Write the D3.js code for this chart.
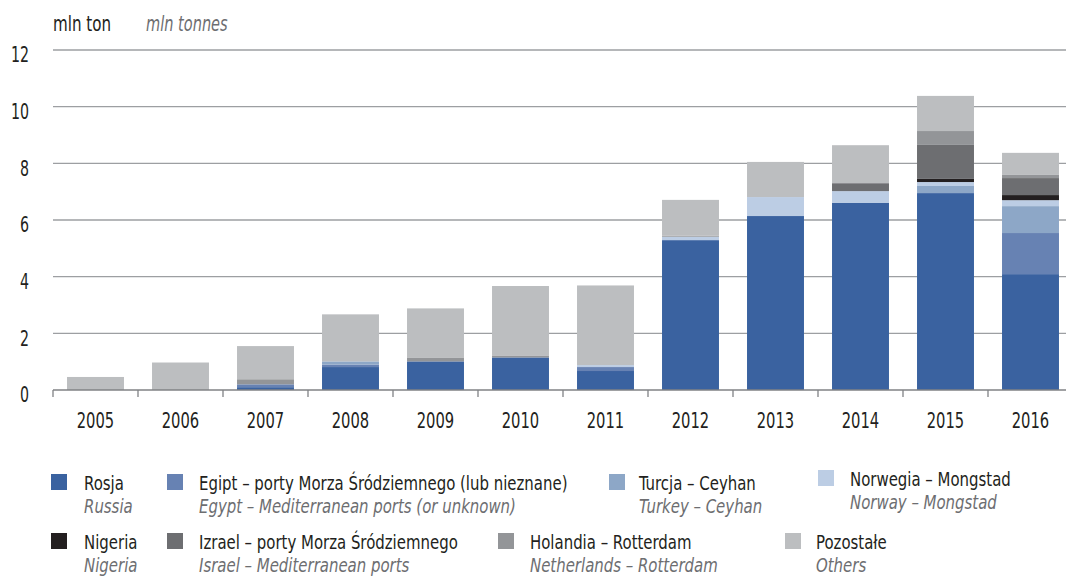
<!DOCTYPE html>
<html>
<head>
<meta charset="utf-8">
<script src="https://cdn.jsdelivr.net/npm/d3@7"></script>
<style>
  body { margin: 0; background: #fff; }
  svg text { font-family: "DejaVu Sans Condensed", "Liberation Sans Narrow", "Roboto", sans-serif; }
</style>
</head>
<body>
<div id="chart"></div>
<script>
// data (mln ton)
var years = ["2005", "2006", "2007", "2008", "2009", "2010", "2011", "2012", "2013", "2014", "2015", "2016"];
var rosja     = [0,    0,    0.10, 0.81, 1.01, 1.15, 0.67, 5.29, 6.14, 6.60, 6.95, 4.09];
var egipt     = [0,    0,    0.10, 0.09, 0,    0,    0.14, 0,    0,    0,    0,    1.45];
var turcja    = [0,    0,    0,    0.11, 0,    0,    0,    0,    0,    0,    0.25, 0.95];
var norwegia  = [0,    0,    0,    0,    0,    0,    0.07, 0.12, 0.67, 0.42, 0.14, 0.21];
var nigeria   = [0,    0,    0,    0,    0,    0,    0,    0,    0,    0,    0.11, 0.18];
var izrael    = [0,    0,    0,    0,    0,    0,    0,    0,    0,    0.28, 1.20, 0.60];
var holandia  = [0,    0,    0.18, 0,    0.14, 0.07, 0,    0.04, 0,    0,    0.49, 0.11];
var pozostale = [0.46, 0.97, 1.17, 1.66, 1.73, 2.45, 2.81, 1.26, 1.24, 1.34, 1.24, 0.78];

var yTicks = [0, 2, 4, 6, 8, 10, 12];
var keys = ["rosja", "egipt", "turcja", "norwegia", "nigeria", "izrael", "holandia", "pozostale"];
var labelsPl = ["Rosja", "Egipt – porty Morza Śródziemnego (lub nieznane)", "Turcja – Ceyhan", "Norwegia – Mongstad",
                "Nigeria", "Izrael – porty Morza Śródziemnego", "Holandia – Rotterdam", "Pozostałe"];
var labelsEn = ["Russia", "Egypt – Mediterranean ports (or unknown)", "Turkey – Ceyhan", "Norway – Mongstad",
                "Nigeria", "Israel – Mediterranean ports", "Netherlands – Rotterdam", "Others"];
var colors = ["#3a62a0", "#6782b3", "#8da7c7", "#bccde4", "#231f20", "#6d6e71", "#939598", "#bcbec0"];

var series = {rosja: rosja, egipt: egipt, turcja: turcja, norwegia: norwegia, nigeria: nigeria,
              izrael: izrael, holandia: holandia, pozostale: pozostale};
var rows = years.map(function(y, i) {
  var r = {year: y};
  keys.forEach(function(k) { r[k] = series[k][i]; });
  return r;
});

// the original font is a condensed one, squeeze ours to fit
function condense(sel, k) {
  sel.each(function() {
    var w = this.getComputedTextLength();
    d3.select(this).attr("textLength", w * k).attr("lengthAdjust", "spacingAndGlyphs");
  });
}

var W = 1066, H = 576;
var svg = d3.select("#chart").append("svg")
    .attr("width", W)
    .attr("height", H);

var x = d3.scaleBand()
    .domain(years)
    .range([53, 1073])
    .paddingInner(0.33)
    .paddingOuter(0.165);

var y = d3.scaleLinear()
    .domain([0, 12])
    .range([390, 50]);

var color = d3.scaleOrdinal().domain(keys).range(colors);

// gridlines
svg.append("g")
  .selectAll("line")
  .data(yTicks.filter(function(d) { return d > 0; }))
  .enter().append("line")
    .attr("x1", 53).attr("x2", W)
    .attr("y1", function(d) { return y(d); })
    .attr("y2", function(d) { return y(d); })
    .attr("stroke", "#9d9fa2")
    .attr("stroke-width", 1.3);

// y labels
svg.append("g")
  .selectAll("text")
  .data(yTicks)
  .enter().append("text")
    .attr("x", 29)
    .attr("y", function(d) { return y(d) + 5; })
    .attr("dy", "0.35em")
    .attr("text-anchor", "end")
    .attr("font-size", 21)
    .attr("fill", "#231f20")
    .text(function(d) { return d; })
    .call(condense, 0.75);

// stacked bars
var stacked = d3.stack().keys(keys)(rows);
svg.append("g")
  .selectAll("g")
  .data(stacked)
  .enter().append("g")
    .attr("fill", function(d) { return color(d.key); })
  .selectAll("rect")
  .data(function(d) { return d; })
  .enter().append("rect")
    .attr("x", function(d) { return x(d.data.year); })
    .attr("y", function(d) { return y(d[1]); })
    .attr("width", x.bandwidth())
    .attr("height", function(d) { return y(d[0]) - y(d[1]); });

// x axis: baseline, ticks between bands, year labels
var gap = (x.step() - x.bandwidth()) / 2;
var bounds = years.map(function(d) { return x(d) - gap; });
bounds.push(x(years[years.length - 1]) + x.bandwidth() + gap);

var xa = svg.append("g");
xa.append("line")
    .attr("x1", 53).attr("x2", W)
    .attr("y1", y(0)).attr("y2", y(0))
    .attr("stroke", "#808285")
    .attr("stroke-width", 1.5);
xa.selectAll(".tk")
  .data(bounds)
  .enter().append("line")
    .attr("x1", function(d) { return d; })
    .attr("x2", function(d) { return d; })
    .attr("y1", y(0)).attr("y2", y(0) + 7)
    .attr("stroke", "#808285")
    .attr("stroke-width", 1.3);
xa.append("g")
    .attr("transform", "translate(0," + y(0) + ")")
    .call(d3.axisBottom(x).tickSize(0).tickPadding(23))
    .call(function(g) { g.select(".domain").remove(); })
    .selectAll("text")
      .attr("font-size", 21)
      .attr("font-family", "DejaVu Sans Condensed, sans-serif")
      .attr("fill", "#231f20")
      .call(condense, 0.78);

// unit labels
svg.append("text")
    .attr("x", 53).attr("y", 31)
    .attr("font-size", 21)
    .attr("fill", "#231f20")
    .text("mln ton")
    .call(condense, 0.8);
svg.append("text")
    .attr("x", 146).attr("y", 31)
    .attr("font-size", 21)
    .attr("font-style", "italic")
    .attr("fill", "#6d6e71")
    .text("mln tonnes")
    .call(condense, 0.77);

// legend
var legendPos = [
  {sx: 51,  tx: 84,  y: 490}, {sx: 167, tx: 199, y: 490}, {sx: 609, tx: 639, y: 490}, {sx: 818, tx: 850, y: 486},
  {sx: 51,  tx: 84,  y: 549}, {sx: 167, tx: 199, y: 549}, {sx: 498, tx: 530, y: 549}, {sx: 785, tx: 816, y: 549}
];
var lg = svg.append("g")
  .selectAll("g")
  .data(keys)
  .enter().append("g");
lg.append("rect")
    .attr("x", function(d, i) { return legendPos[i].sx; })
    .attr("y", function(d, i) { return legendPos[i].y - 16; })
    .attr("width", 16).attr("height", 16)
    .attr("fill", function(d) { return color(d); });
lg.append("text")
    .attr("x", function(d, i) { return legendPos[i].tx; })
    .attr("y", function(d, i) { return legendPos[i].y; })
    .attr("font-size", 20)
    .attr("fill", "#231f20")
    .text(function(d, i) { return labelsPl[i]; })
    .call(condense, 0.83);
lg.append("text")
    .attr("x", function(d, i) { return legendPos[i].tx; })
    .attr("y", function(d, i) { return legendPos[i].y + 23; })
    .attr("font-size", 20)
    .attr("font-style", "italic")
    .attr("fill", "#6d6e71")
    .text(function(d, i) { return labelsEn[i]; })
    .call(condense, 0.83);
</script>
</body>
</html>
